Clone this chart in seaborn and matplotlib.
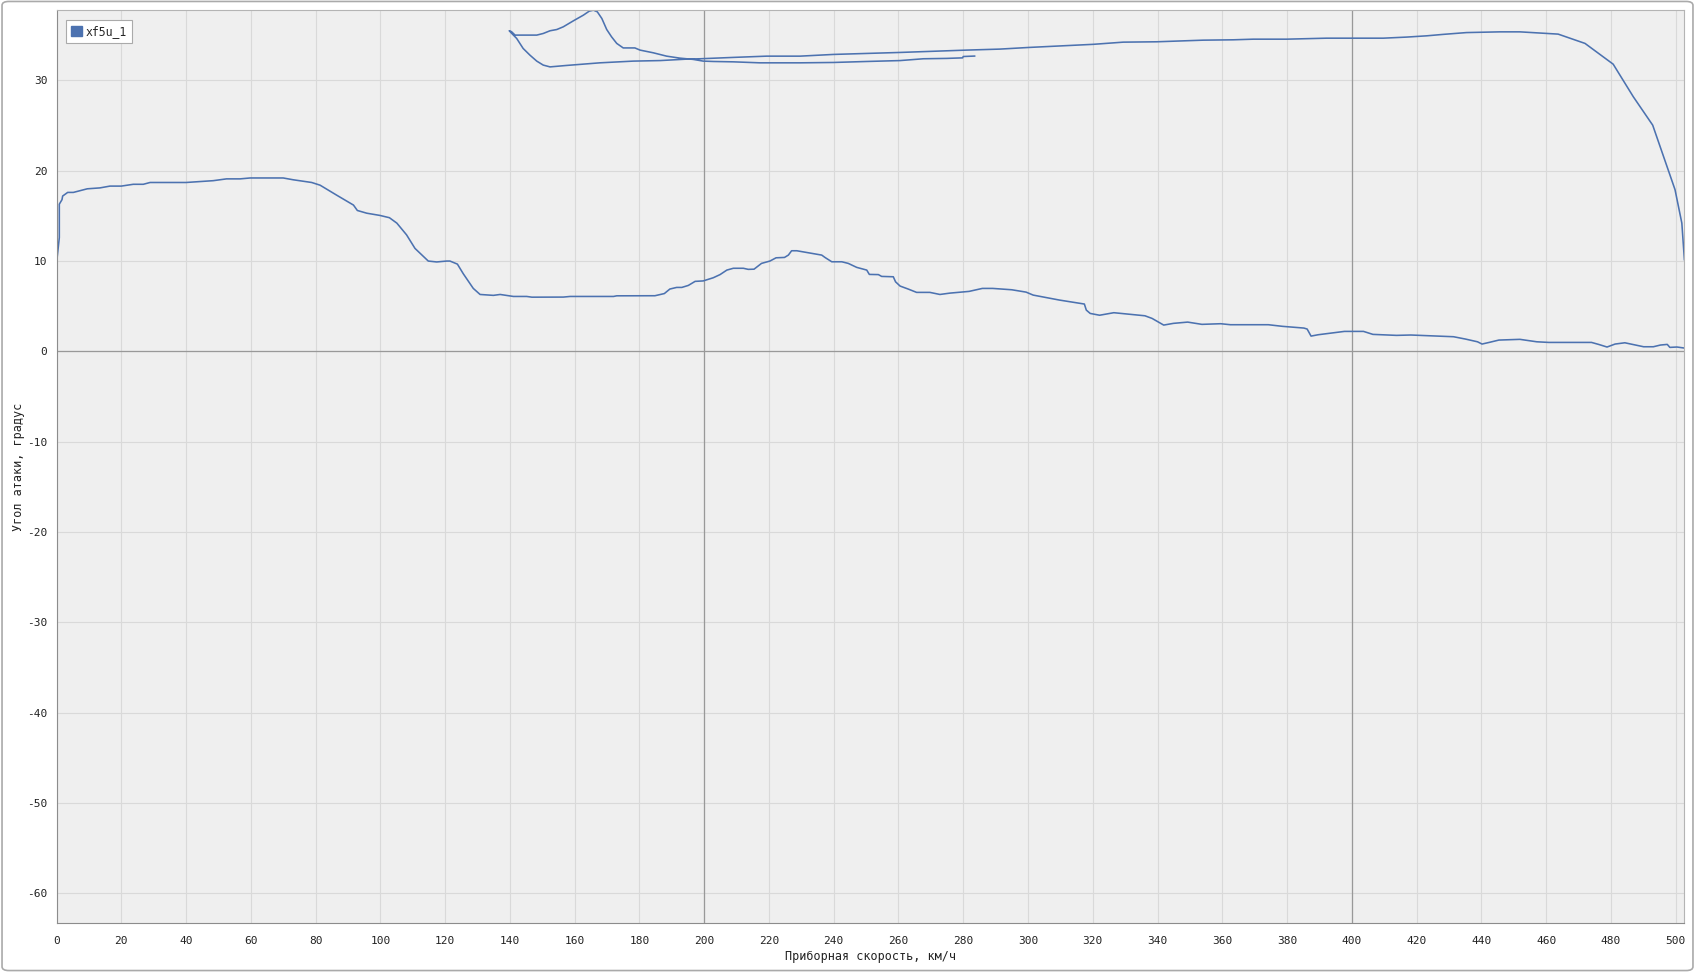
import matplotlib
matplotlib.use('Agg')
import matplotlib.pyplot as plt
from matplotlib.patches import FancyBboxPatch, Patch
import seaborn as sns

# low branch: run-up from 0 to max speed
speed_run = [0.06, 0.87, 0.87, 1.7, 1.9, 3.45, 5.2, 9.5, 13.4, 16.5, 20, 23.7, 26.8, 28.9, 40,
             48.4, 52.5, 56.7, 59.8, 70.0, 73.1, 78.8, 81.4, 86.5, 91.7, 92.9, 95.8, 99.9, 102.8,
             105.1, 108.1, 110.7, 114.8, 117.4, 120.5, 121.5, 123.8, 125.6, 128.7, 130.8, 134.9,
             137.0, 141.1, 145.2, 146.8, 156.5, 158.6, 172.0, 173.0, 184.8, 187.7, 189.4, 191.5,
             193.1, 195.1, 197.2, 199.7, 202.8, 204.9, 207.0, 209.0, 212.1, 213.6, 215.4, 217.7,
             220.3, 222.2, 224.8, 226.0, 227.0, 228.6, 231.7, 236.3, 237.3, 239.4, 242.5, 244.5,
             247.1, 250.2, 251.0, 253.8, 254.8, 258.4, 259.1, 260.5, 263.0, 265.6, 269.7, 272.8,
             275.9, 281.8, 285.9, 289.1, 295.0, 299.4, 301.6, 309.7, 317.4, 318.0, 319.2, 322.1,
             326.5, 336.1, 338.3, 341.9, 344.9, 349.3, 353.7, 359.5, 362.5, 374.2, 378.6, 385.2,
             386.2, 387.4, 389.6, 397.7, 403.6, 406.5, 413.8, 418.2, 431.4, 435.1, 438.8, 440.2,
             442.4, 445.4, 451.9, 457.1, 460.8, 474.0, 476.2, 478.8, 481.3, 484.3, 487.2, 490.1,
             493.1, 495.3, 497.4, 498.2, 500.4, 502.6]
aoa_run = [9.92, 12.6, 16.3, 16.8, 17.2, 17.6, 17.6, 18.0, 18.1, 18.3, 18.3, 18.5, 18.5, 18.7, 18.7,
           18.9, 19.1, 19.1, 19.2, 19.2, 19.0, 18.7, 18.4, 17.3, 16.2, 15.6, 15.3, 15.05, 14.8,
           14.2, 12.9, 11.4, 10.0, 9.9, 10.0, 10.0, 9.66, 8.6, 6.97, 6.3, 6.2,
           6.3, 6.08, 6.08, 6.0, 6.01, 6.08, 6.08, 6.15, 6.16, 6.4, 6.9, 7.08,
           7.08, 7.3, 7.75, 7.8, 8.15, 8.5, 9.0, 9.2, 9.2, 9.08, 9.1, 9.74,
           10.0, 10.36, 10.4, 10.66, 11.14, 11.14, 10.95, 10.66, 10.4, 9.92, 9.92, 9.74,
           9.3, 9.0, 8.52, 8.5, 8.3, 8.26, 7.7, 7.23, 6.9, 6.53, 6.53, 6.3,
           6.45, 6.64, 6.97, 6.97, 6.82, 6.56, 6.23, 5.68, 5.24, 4.57, 4.2, 4.0,
           4.28, 3.94, 3.65, 2.91, 3.1, 3.24, 2.99, 3.06, 2.95, 2.95, 2.77, 2.58,
           2.47, 1.69, 1.84, 2.21, 2.21, 1.88, 1.77, 1.81, 1.62, 1.36, 1.06, 0.81,
           0.99, 1.25, 1.33, 1.06, 0.99, 0.99, 0.77, 0.48, 0.81, 0.95, 0.73, 0.51,
           0.51, 0.7, 0.77, 0.44, 0.48, 0.37]

# high branch: slow-down at high angle of attack, loop near 140-165
speed_loop = [502.7, 501.9, 499.8, 492.9, 486.9, 480.7, 472.0, 463.7, 451.9, 445.7, 435.4, 428.2,
              423.1, 416.9, 409.7, 392.2, 379.9, 369.6, 363.4, 354.1, 339.7, 329.4, 320.2, 300.1,
              291.3, 281.1, 260.5, 239.9, 229.6, 219.3, 209.0, 198.7, 194.6, 186.4, 178.1, 167.8,
              157.5, 152.4, 150.3, 148.3, 146.2, 144.1, 142.1, 140.6, 139.8,
              140.5, 141.6, 148.3, 150.3, 152.4, 154.5, 156.5, 159.6, 162.7, 164.5, 165.8, 167.0,
              168.4, 169.9, 171.4, 173.0, 175.0, 178.6, 180.2, 184.3, 188.4, 192.5, 196.6, 199.7,
              202.8, 209.0, 217.2, 229.6, 239.9, 250.2, 260.5, 267.7, 274.9, 279.8, 280.0, 283.6]
aoa_loop = [10.1, 14.2, 17.9, 25.05, 28.2, 31.8, 34.1, 35.13, 35.38, 35.38, 35.3, 35.1,
            34.94, 34.8, 34.68, 34.68, 34.57, 34.57, 34.5, 34.46, 34.28, 34.24, 34.0, 33.65,
            33.47, 33.36, 33.1, 32.88, 32.69, 32.69, 32.55, 32.4, 32.36, 32.2, 32.14, 31.95,
            31.66, 31.5, 31.7, 32.14, 32.8, 33.54, 34.65, 35.2, 35.5,
            35.4, 35.02, 35.02, 35.2, 35.5, 35.64, 35.94, 36.6, 37.23, 37.67, 37.78, 37.6,
            36.86, 35.64, 34.83, 34.1, 33.6, 33.6, 33.36, 33.06, 32.69, 32.47, 32.33, 32.14,
            32.1, 32.06, 31.95, 31.95, 31.99, 32.1, 32.2, 32.4, 32.44, 32.5, 32.65, 32.7]

x_ticks = list(range(0, 501, 20))
y_ticks = list(range(-60, 31, 10))
series_name = 'xf5u_1'

sns.set_style('white')
plt.rcParams['font.family'] = ['DejaVu Sans Mono', 'DejaVu Sans']
plt.rcParams['axes.unicode_minus'] = False

line_color = '#4c72b0'

fig = plt.figure(figsize=(16.95, 9.72), dpi=100)
fig.patch.set_facecolor('white')
fig.patches.append(FancyBboxPatch((0.0012, 0.0015), 0.9976, 0.997, boxstyle='round,pad=0,rounding_size=0.004',
                                  transform=fig.transFigure, facecolor='none', edgecolor='#aaaaaa',
                                  linewidth=1.2))
ax = fig.add_axes([56.5 / 1695, 1 - 923 / 972, (1684.3 - 56.5) / 1695, (923 - 10) / 972])
ax.set_facecolor('#efefef')

sns.lineplot(x=speed_run, y=aoa_run, sort=False, estimator=None, color=line_color, linewidth=1.15, ax=ax)
sns.lineplot(x=speed_loop, y=aoa_loop, sort=False, estimator=None, color=line_color, linewidth=1.15, ax=ax)

ax.set_xlim(0, 502.66)
ax.set_ylim(-63.3, 37.8)
ax.set_xticks(x_ticks)
ax.set_yticks(y_ticks)
ax.grid(True, color='#d9d9d9', linewidth=0.8)
ax.set_axisbelow(True)
ax.axvline(200, color='#999999', linewidth=0.9, zorder=1)
ax.axvline(400, color='#999999', linewidth=0.9, zorder=1)
ax.axhline(0, color='#999999', linewidth=0.9, zorder=1)

for side in ['left', 'bottom']:
    ax.spines[side].set_color('#8c8c8c')
for side in ['top', 'right']:
    ax.spines[side].set_color('#b4b4b4')

ax.tick_params(axis='y', length=5, width=0.8, color='#999999', pad=1.5, labelsize=8, labelcolor='#222222')
ax.tick_params(axis='x', length=2, width=0.8, color='#999999', pad=7, labelsize=8, labelcolor='#222222')

ax.set_xlabel('Приборная скорость, км/ч', fontsize=8.5, color='#222222')
ax.set_ylabel('Угол атаки, градус', fontsize=8.5, color='#222222')
ax.xaxis.set_label_coords(0.5, -0.03)
ax.yaxis.set_label_coords(-0.0195, 0.5)

handle = Patch(facecolor=line_color, edgecolor=line_color, label=series_name)
leg = ax.legend(handles=[handle], loc='upper left', bbox_to_anchor=(0.006, 0.989), borderaxespad=0,
                fontsize=8.3, handlelength=0.9, handleheight=0.9, handletextpad=0.3, borderpad=0.45,
                fancybox=False, framealpha=1, edgecolor='#aaaaaa')
leg.get_frame().set_linewidth(0.8)

plt.savefig('out.png', dpi=100)
